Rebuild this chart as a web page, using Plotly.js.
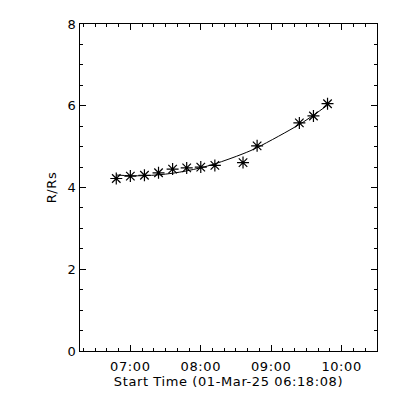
<!DOCTYPE html>
<html>
<head>
<meta charset="utf-8">
<script src="https://cdn.plot.ly/plotly-3.0.1.min.js"></script>
<style>html,body{margin:0;padding:0;background:#fff;}#chart{width:400px;height:400px;}#chart text{letter-spacing:0.6px;}</style>
</head>
<body>
<div id="chart"></div>
<script>
// Observation times (01-Mar-2025) and heights in solar radii
var times = ["2025-03-01 06:48","2025-03-01 07:00","2025-03-01 07:12","2025-03-01 07:24",
             "2025-03-01 07:36","2025-03-01 07:48","2025-03-01 08:00","2025-03-01 08:12",
             "2025-03-01 08:36","2025-03-01 08:48","2025-03-01 09:24","2025-03-01 09:36",
             "2025-03-01 09:48"];
var heights = [4.22, 4.28, 4.30, 4.36, 4.45, 4.48, 4.50, 4.54, 4.61, 5.02, 5.58, 5.75, 6.05];
var xTitle = "Start Time (01-Mar-25 06:18:08)";
var yTitle = "R/Rs";

// Quadratic least-squares fit of height vs time (as in the original plot)
function toHours(s){ var p = s.split(" ")[1].split(":"); return +p[0] + (+p[1])/60; }
var th = times.map(toHours);
function quadFit(x, y){
  var n=x.length, s=[0,0,0,0,0], t=[0,0,0];
  for (var i=0;i<n;i++){ var xi=1; for (var k=0;k<5;k++){ s[k]+=xi; if(k<3) t[k]+=xi*y[i]; xi*=x[i]; } }
  var A=[[s[0],s[1],s[2],t[0]],[s[1],s[2],s[3],t[1]],[s[2],s[3],s[4],t[2]]];
  for (var c=0;c<3;c++){ for (var r=c+1;r<3;r++){ var f=A[r][c]/A[c][c]; for (var j=c;j<4;j++) A[r][j]-=f*A[c][j]; } }
  var b=[0,0,0];
  for (var r2=2;r2>=0;r2--){ var v=A[r2][3]; for (var j2=r2+1;j2<3;j2++) v-=A[r2][j2]*b[j2]; b[r2]=v/A[r2][r2]; }
  return b;
}
var coef = quadFit(th, heights);
var fitHeights = th.map(function(h){ return coef[0]+coef[1]*h+coef[2]*h*h; });

var font = {family: "DejaVu Sans, sans-serif", size: 13, color: "#000"};
var data = [
  {x: times, y: fitHeights, type: "scatter", mode: "lines", line: {color: "#000", width: 1, shape: "spline"}, hoverinfo: "skip"},
  {x: times, y: heights, type: "scatter", mode: "markers",
   marker: {symbol: "asterisk-open", size: 10, color: "#000", line: {color: "#000", width: 1.2}}}
];
var layout = {
  width: 400, height: 400,
  margin: {l: 80, r: 23, t: 24, b: 49, pad: 0},
  paper_bgcolor: "#fff", plot_bgcolor: "#fff",
  showlegend: false, font: font,
  xaxis: {
    type: "date", range: ["2025-03-01 06:17:06", "2025-03-01 10:30:09"],
    tick0: "2025-03-01 07:00", dtick: 3600000, tickformat: "%H:%M",
    ticks: "inside", ticklen: 6, tickwidth: 1, tickcolor: "#000",
    ticklabelstandoff: 3,
    minor: {dtick: 600000, ticks: "inside", ticklen: 3, tickwidth: 1, tickcolor: "#000", showgrid: false},
    showline: true, linecolor: "#000", linewidth: 1, mirror: "ticks",
    showgrid: false, zeroline: false,
    title: {text: xTitle, font: font, standoff: 3},
    tickfont: font
  },
  yaxis: {
    range: [0, 8], tick0: 0, dtick: 2,
    ticks: "inside", ticklen: 6, tickwidth: 1, tickcolor: "#000",
    minor: {dtick: 0.5, ticks: "inside", ticklen: 3, tickwidth: 1, tickcolor: "#000", showgrid: false},
    showline: true, linecolor: "#000", linewidth: 1, mirror: "ticks",
    showgrid: false, zeroline: false,
    title: {text: yTitle, font: font, standoff: 8},
    tickfont: font
  }
};
Plotly.newPlot("chart", data, layout, {staticPlot: true, displayModeBar: false});
</script>
</body>
</html>
